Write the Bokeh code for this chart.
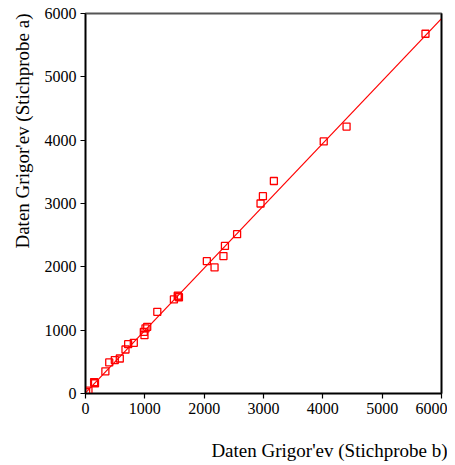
from bokeh.plotting import figure
from bokeh.models import LinearAxis, FixedTicker, Range1d, Title
from bokeh.embed import file_html
from bokeh.resources import INLINE

# Data
sample_b = [10, 50, 150, 160, 145, 335, 400, 494, 578, 674, 719, 814, 983, 994, 1011, 1040,
            1210, 1490, 1560, 1575, 1555, 2045, 2175, 2325, 2350, 2555, 2950, 2990, 3175,
            4015, 4400, 5730]
sample_a = [20, 45, 170, 160, 180, 350, 490, 527, 553, 695, 779, 800, 973, 921, 1027, 1052,
            1290, 1485, 1535, 1520, 1545, 2090, 1990, 2170, 2330, 2515, 3000, 3115, 3355,
            3980, 4215, 5680]
fit_x = [0, 6000]
fit_y = [10, 5920]
ticks = [0, 1000, 2000, 3000, 4000, 5000, 6000]
x_label = "Daten Grigor'ev (Stichprobe b)"
y_label = "Daten Grigor'ev (Stichprobe a)"

FONT = "Liberation Serif"

p = figure(width=447, height=465, output_backend="svg", toolbar_location=None,
           x_range=Range1d(0, 6000), y_range=Range1d(0, 6000),
           min_border_left=85, min_border_right=6, min_border_top=13, min_border_bottom=72)
p.xgrid.visible = False
p.ygrid.visible = False
p.background_fill_color = "white"
p.border_fill_color = "white"
p.outline_line_color = "#555555"
p.outline_line_width = 2

for ax in (p.xaxis[0], p.yaxis[0]):
    ax.ticker = FixedTicker(ticks=ticks)
    ax.major_tick_in = 0
    ax.major_tick_out = 5
    ax.minor_tick_line_color = None
    ax.axis_line_color = "black"
    ax.axis_line_width = 1.5
    ax.major_tick_line_color = "black"
    ax.major_tick_line_width = 1.2
    ax.major_label_text_font = FONT
    ax.major_label_text_font_size = "16px"
    ax.major_label_text_color = "black"
    ax.major_label_standoff = 4

# right frame edge (black)
right = LinearAxis(ticker=FixedTicker(ticks=[]), major_label_text_font_size="0px",
                   axis_line_color="black", axis_line_width=1.5,
                   major_tick_line_color=None, minor_tick_line_color=None)
p.add_layout(right, "right")

# invisible spacer below the x axis, pushes the x label down
spacer = LinearAxis(ticker=FixedTicker(ticks=[0]), major_label_overrides={0: ""},
                    major_label_text_font_size="0px", axis_line_color=None,
                    major_tick_line_color=None, minor_tick_line_color=None,
                    major_tick_out=20, major_tick_in=0, major_label_standoff=0)
p.add_layout(spacer, "below")

p.add_layout(Title(text=x_label, align="right", offset=-6, text_font=FONT,
                   text_font_size="19px", text_font_style="normal", text_color="black",
                   standoff=2), "below")
p.add_layout(Title(text=y_label, align="right", text_font=FONT, text_font_size="19px",
                   text_font_style="normal", text_color="black", standoff=18), "left")

p.line(fit_x, fit_y, line_color="red", line_width=1.2)
p.scatter(sample_b, sample_a, marker="square", size=7, fill_color=None,
          line_color="red", line_width=1.3)

open("out.html", "w").write(file_html(p, INLINE))
